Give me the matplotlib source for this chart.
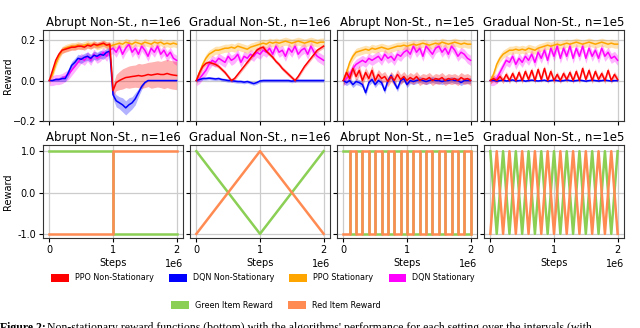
import numpy as np
import matplotlib
matplotlib.use("Agg")
import matplotlib.pyplot as plt
from matplotlib.patches import Patch

# x positions of the learning curves, in units of 1e6 steps
steps = np.arange(41) * 0.05

titles = ["Abrupt Non-St., n=1e6", "Gradual Non-St., n=1e6",
          "Abrupt Non-St., n=1e5", "Gradual Non-St., n=1e5"]

# --- top row: mean reward curves ---
# Abrupt, n=1e6
a6_ppo_ns = [0.00, 0.05, 0.10, 0.13, 0.15, 0.155, 0.16, 0.165, 0.165, 0.17,
             0.17, 0.165, 0.175, 0.17, 0.18, 0.175, 0.18, 0.185, 0.175, 0.18,
             -0.05, -0.01, 0.0, 0.008, 0.015, 0.017, 0.02, 0.022, 0.025, 0.022,
             0.025, 0.03, 0.027, 0.03, 0.033, 0.03, 0.03, 0.035, 0.03, 0.027, 0.025]
a6_dqn_ns = [0.00, 0.00, 0.005, 0.005, 0.01, 0.01, 0.04, 0.075, 0.09, 0.11,
             0.105, 0.115, 0.12, 0.11, 0.125, 0.12, 0.13, 0.125, 0.14, 0.145,
             -0.07, -0.10, -0.11, -0.12, -0.135, -0.12, -0.11, -0.09, -0.06, -0.03,
             -0.01, 0.0, 0.0, 0.0, 0.0, 0.0, 0.0, 0.0, 0.0, 0.0, 0.0]
a6_ppo_st = [0.00, 0.03, 0.08, 0.12, 0.15, 0.16, 0.165, 0.17, 0.17, 0.175,
             0.17, 0.175, 0.18, 0.175, 0.18, 0.17, 0.175, 0.18, 0.175, 0.17,
             0.175, 0.18, 0.185, 0.18, 0.19, 0.185, 0.18, 0.19, 0.185, 0.18,
             0.19, 0.185, 0.18, 0.19, 0.185, 0.19, 0.18, 0.185, 0.18, 0.185, 0.18]
a6_dqn_st = [0.00, 0.0, 0.005, 0.005, 0.01, 0.02, 0.03, 0.05, 0.07, 0.09,
             0.11, 0.10, 0.12, 0.10, 0.13, 0.11, 0.12, 0.14, 0.12, 0.15,
             0.16, 0.14, 0.17, 0.13, 0.16, 0.18, 0.14, 0.16, 0.13, 0.17,
             0.15, 0.12, 0.16, 0.14, 0.17, 0.13, 0.15, 0.12, 0.14, 0.11, 0.10]

# Gradual, n=1e6
g6_ppo_ns = [0.00, 0.04, 0.07, 0.085, 0.09, 0.085, 0.08, 0.07, 0.055, 0.04,
             0.02, 0.0, 0.01, 0.03, 0.05, 0.07, 0.09, 0.11, 0.13, 0.15,
             0.16, 0.165, 0.145, 0.13, 0.115, 0.095, 0.08, 0.06, 0.045, 0.03,
             0.015, 0.0, 0.02, 0.045, 0.07, 0.09, 0.11, 0.13, 0.15, 0.16, 0.17]
g6_dqn_ns = [0.00, 0.005, 0.01, 0.01, 0.012, 0.01, 0.008, 0.01, 0.005, 0.003,
             0.0, 0.0, -0.003, -0.005, -0.005, -0.008, -0.005, -0.01, -0.015, -0.01,
             -0.002, 0.0, 0.0, 0.0, 0.0, 0.0, 0.0, 0.0, 0.0, 0.0,
             -0.003, 0.0, 0.0, 0.0, 0.0, 0.0, 0.0, 0.0, 0.0, 0.0, 0.0]
g6_ppo_st = [0.00, 0.04, 0.08, 0.11, 0.13, 0.14, 0.15, 0.15, 0.155, 0.16,
             0.16, 0.165, 0.16, 0.17, 0.165, 0.16, 0.155, 0.165, 0.17, 0.175,
             0.18, 0.185, 0.18, 0.19, 0.185, 0.19, 0.185, 0.19, 0.195, 0.19,
             0.185, 0.19, 0.195, 0.19, 0.185, 0.19, 0.195, 0.19, 0.185, 0.19, 0.19]
g6_dqn_st = [0.00, 0.01, 0.03, 0.05, 0.08, 0.10, 0.09, 0.11, 0.10, 0.09,
             0.12, 0.10, 0.11, 0.13, 0.09, 0.12, 0.11, 0.13, 0.12, 0.14,
             0.13, 0.15, 0.14, 0.16, 0.13, 0.17, 0.14, 0.15, 0.12, 0.16,
             0.14, 0.17, 0.13, 0.15, 0.16, 0.13, 0.17, 0.14, 0.12, 0.11, 0.10]

# Abrupt, n=1e5
a5_ppo_ns = [0.00, 0.04, 0.01, 0.06, 0.02, 0.05, 0.00, 0.04, 0.01, 0.05,
             0.00, 0.03, 0.01, 0.02, -0.005, 0.02, 0.0, 0.03, 0.005, 0.02,
             0.0, 0.015, 0.005, 0.02, 0.0, 0.01, 0.005, 0.015, 0.0, 0.01,
             0.005, 0.015, 0.0, 0.01, 0.005, 0.01, 0.0, 0.015, 0.005, 0.01, 0.0]
a5_dqn_ns = [0.00, -0.01, 0.0, -0.02, -0.005, -0.01, -0.02, -0.06, -0.01, 0.005,
             -0.02, 0.0, -0.01, -0.05, 0.0, 0.025, -0.01, -0.04, 0.0, 0.01,
             -0.02, 0.0, -0.005, 0.0, 0.005, 0.0, -0.005, 0.0, 0.005, 0.0,
             0.0, -0.005, 0.0, 0.0, 0.005, 0.0, 0.0, -0.01, 0.0, 0.0, 0.0]
a5_ppo_st = [0.00, 0.04, 0.09, 0.12, 0.14, 0.145, 0.15, 0.155, 0.15, 0.16,
             0.155, 0.16, 0.165, 0.16, 0.155, 0.16, 0.165, 0.17, 0.17, 0.175,
             0.17, 0.175, 0.18, 0.175, 0.18, 0.185, 0.18, 0.175, 0.18, 0.185,
             0.18, 0.19, 0.185, 0.18, 0.185, 0.19, 0.185, 0.18, 0.185, 0.18, 0.18]
a5_dqn_st = [0.00, 0.01, 0.03, 0.06, 0.08, 0.09, 0.10, 0.09, 0.11, 0.10,
             0.11, 0.12, 0.10, 0.13, 0.11, 0.12, 0.10, 0.13, 0.12, 0.14,
             0.15, 0.13, 0.17, 0.14, 0.16, 0.12, 0.17, 0.15, 0.13, 0.16,
             0.17, 0.14, 0.16, 0.13, 0.17, 0.15, 0.12, 0.14, 0.13, 0.11, 0.10]

# Gradual, n=1e5
g5_ppo_ns = [0.00, 0.01, 0.0, 0.02, 0.0, 0.03, 0.0, 0.035, 0.0, 0.04,
             0.0, 0.045, 0.005, 0.05, 0.0, 0.055, 0.005, 0.06, 0.0, 0.045,
             0.0, 0.03, 0.0, 0.035, 0.005, 0.04, 0.0, 0.045, 0.0, 0.06,
             0.005, 0.05, 0.0, 0.045, 0.005, 0.035, 0.0, 0.05, 0.0, 0.03, 0.005]
g5_dqn_ns = [0.00, 0.002, -0.003, 0.0, 0.002, -0.002, 0.0, 0.003, -0.002, 0.0,
             0.002, -0.003, 0.0, 0.002, 0.0, -0.002, 0.0, 0.002, -0.003, 0.0,
             0.002, 0.0, -0.002, 0.0, 0.003, 0.0, -0.002, 0.0, 0.002, 0.0,
             -0.003, 0.0, 0.002, 0.0, -0.002, 0.0, 0.002, 0.0, -0.002, 0.0, 0.0]
g5_ppo_st = [0.00, 0.03, 0.08, 0.11, 0.13, 0.14, 0.15, 0.15, 0.155, 0.15,
             0.155, 0.15, 0.16, 0.155, 0.15, 0.16, 0.165, 0.17, 0.175, 0.17,
             0.175, 0.18, 0.175, 0.18, 0.185, 0.18, 0.185, 0.19, 0.185, 0.18,
             0.185, 0.19, 0.185, 0.18, 0.185, 0.19, 0.185, 0.18, 0.185, 0.18, 0.18]
g5_dqn_st = [0.00, 0.0, 0.01, 0.04, 0.07, 0.10, 0.09, 0.12, 0.08, 0.11,
             0.09, 0.12, 0.10, 0.13, 0.09, 0.14, 0.11, 0.15, 0.10, 0.16,
             0.12, 0.17, 0.11, 0.16, 0.12, 0.17, 0.11, 0.16, 0.12, 0.17,
             0.11, 0.16, 0.12, 0.15, 0.11, 0.16, 0.12, 0.14, 0.11, 0.12, 0.10]

# spread of the shaded bands
a6_ppo_ns_sd = [0.0, 0.01, 0.015, 0.015, 0.015, 0.015, 0.015, 0.015, 0.015, 0.015,
                0.015, 0.015, 0.015, 0.015, 0.015, 0.015, 0.015, 0.015, 0.015, 0.015,
                0.03, 0.04, 0.045, 0.05, 0.05, 0.055, 0.055, 0.055, 0.06, 0.06,
                0.06, 0.06, 0.065, 0.065, 0.065, 0.065, 0.07, 0.07, 0.07, 0.07, 0.07]
a6_dqn_ns_sd = [0.0, 0.005, 0.01, 0.01, 0.015, 0.015, 0.02, 0.02, 0.02, 0.02,
                0.02, 0.02, 0.02, 0.02, 0.02, 0.02, 0.02, 0.02, 0.02, 0.02,
                0.02, 0.03, 0.03, 0.035, 0.035, 0.035, 0.03, 0.03, 0.02, 0.015,
                0.005, 0.003, 0.003, 0.003, 0.003, 0.003, 0.003, 0.003, 0.003, 0.003, 0.003]
ppo_ns_sd = [0.015, 0.01, 0.025, 0.015]
dqn_ns_sd = [0.02, 0.008, 0.015, 0.004]
ppo_st_sd = [0.018, 0.02, 0.02, 0.02]
dqn_st_sd = [0.025, 0.025, 0.025, 0.025]

# --- bottom row: item reward functions ---
abrupt6_x = [0, 1, 1, 2]
abrupt6_green = [1, 1, -1, -1]
abrupt6_red = [-1, -1, 1, 1]

grad6_x = [0, 1, 2]
grad6_green = [1, -1, 1]
grad6_red = [-1, 1, -1]

switch5_x = [0.0, 0.1, 0.2, 0.3, 0.4, 0.5, 0.6, 0.7, 0.8, 0.9, 1.0,
             1.1, 1.2, 1.3, 1.4, 1.5, 1.6, 1.7, 1.8, 1.9, 2.0]
abrupt5_green = [1, -1, 1, -1, 1, -1, 1, -1, 1, -1, 1,
                 -1, 1, -1, 1, -1, 1, -1, 1, -1, 1]
abrupt5_red = [-1, 1, -1, 1, -1, 1, -1, 1, -1, 1, -1,
               1, -1, 1, -1, 1, -1, 1, -1, 1, -1]
grad5_green = [1, -1, 1, -1, 1, -1, 1, -1, 1, -1, 1,
               -1, 1, -1, 1, -1, 1, -1, 1, -1, 1]
grad5_red = [-1, 1, -1, 1, -1, 1, -1, 1, -1, 1, -1,
             1, -1, 1, -1, 1, -1, 1, -1, 1, -1]

top_data = [
    (a6_ppo_ns, a6_dqn_ns, a6_ppo_st, a6_dqn_st),
    (g6_ppo_ns, g6_dqn_ns, g6_ppo_st, g6_dqn_st),
    (a5_ppo_ns, a5_dqn_ns, a5_ppo_st, a5_dqn_st),
    (g5_ppo_ns, g5_dqn_ns, g5_ppo_st, g5_dqn_st),
]

c_ppo_ns, c_dqn_ns, c_ppo_st, c_dqn_st = "red", "blue", "orange", "magenta"
c_green, c_red = "#8bcf55", "#ff8b52"

fig = plt.figure(figsize=(6.4, 3.28), dpi=100)
W, H = 640, 328
lefts = [43, 190, 337, 484]
axw = 140


def style(ax):
    ax.grid(True, color="#cccccc", lw=0.9)
    ax.set_axisbelow(True)
    ax.set_xlim(-0.1e6, 2.1e6)
    ax.set_xticks([0, 1e6, 2e6])
    ax.tick_params(labelsize=7, length=3, width=0.8, pad=2)
    for s in ax.spines.values():
        s.set_color("#333333")
        s.set_linewidth(0.8)


for k in range(4):
    ax = fig.add_axes([lefts[k] / W, 1 - 121 / H, axw / W, 91 / H])
    style(ax)
    ppo_ns, dqn_ns, ppo_st, dqn_st = [np.array(v) for v in top_data[k]]
    x = steps * 1e6
    sd_ppo_ns = np.array(a6_ppo_ns_sd) if k == 0 else ppo_ns_sd[k]
    sd_dqn_ns = np.array(a6_dqn_ns_sd) if k == 0 else dqn_ns_sd[k]
    for y, sd, c in [(dqn_st, dqn_st_sd[k], c_dqn_st),
                     (ppo_st, ppo_st_sd[k], c_ppo_st),
                     (dqn_ns, sd_dqn_ns, c_dqn_ns),
                     (ppo_ns, sd_ppo_ns, c_ppo_ns)]:
        ax.fill_between(x, y - sd, y + sd, color=c, alpha=0.3, lw=0)
        ax.plot(x, y, color=c, lw=1.1)
    ax.set_ylim(-0.2, 0.25)
    ax.set_yticks([-0.2, 0.0, 0.2])
    ax.tick_params(labelbottom=False)
    ax.xaxis.offsetText.set_visible(False)
    if k > 0:
        ax.tick_params(labelleft=False)
    else:
        ax.set_ylabel("Reward", fontsize=7)
        ax.yaxis.set_label_coords((13 - lefts[0]) / axw, 0.5)
    ax.set_title(titles[k], fontsize=8.5, pad=3)

bottom_data = [
    (abrupt6_x, abrupt6_green, abrupt6_red, "default"),
    (grad6_x, grad6_green, grad6_red, "default"),
    (switch5_x, abrupt5_green, abrupt5_red, "steps-post"),
    (switch5_x, grad5_green, grad5_red, "default"),
]

for k in range(4):
    ax = fig.add_axes([lefts[k] / W, 1 - 238 / H, axw / W, 93 / H])
    style(ax)
    bx, gy, ry, ds = bottom_data[k]
    bx = np.array(bx) * 1e6
    ax.plot(bx, gy, color=c_green, lw=1.8, drawstyle=ds)
    ax.plot(bx, ry, color=c_red, lw=1.8, drawstyle=ds)
    ax.set_ylim(-1.1, 1.15)
    ax.set_yticks([1, 0, -1])
    ax.set_yticklabels(["1.0", "0.0", "-1.0"])
    ax.xaxis.offsetText.set_fontsize(7)
    ax.set_xlabel("Steps", fontsize=7, labelpad=2)
    if k > 0:
        ax.tick_params(labelleft=False)
    else:
        ax.set_ylabel("Reward", fontsize=7)
        ax.yaxis.set_label_coords((13 - lefts[0]) / axw, 0.5)
    ax.set_title(titles[k], fontsize=8.5, pad=3)

leg_kw = dict(frameon=False, fontsize=5.8, handlelength=2.2, handleheight=1.1,
              handletextpad=0.75, columnspacing=1.9, loc="center")
h1 = [Patch(facecolor=c, label=l) for c, l in
      [(c_ppo_ns, "PPO Non-Stationary"), (c_dqn_ns, "DQN Non-Stationary"),
       (c_ppo_st, "PPO Stationary"), (c_dqn_st, "DQN Stationary")]]
fig.legend(handles=h1, ncol=4, bbox_to_anchor=(263 / W, 1 - 278 / H), **leg_kw)
h2 = [Patch(facecolor=c_green, label="Green Item Reward"),
      Patch(facecolor=c_red, label="Red Item Reward")]
fig.legend(handles=h2, ncol=2, bbox_to_anchor=(276 / W, 1 - 305 / H), **leg_kw)

# caption of the page, only its upper part falls inside the image
fig.text(0.0, 1 - 328 / H, "Figure 2:", fontsize=8.5, family="Liberation Serif",
         weight="bold", va="center", ha="left")
fig.text(47 / W, 1 - 328 / H,
         "Non-stationary reward functions (bottom) with the algorithms' performance "
         "for each setting over the intervals (with",
         fontsize=8.5, family="Liberation Serif", va="center", ha="left")

fig.savefig("out.png", dpi=100)
